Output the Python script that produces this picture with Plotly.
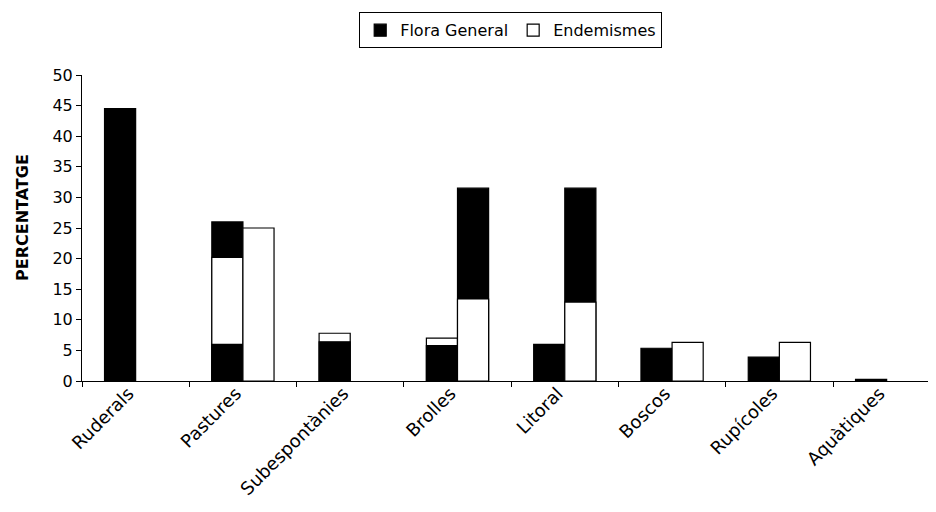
import plotly.graph_objects as go

categories = ["Ruderals", "Pastures", "Subespontànies", "Brolles", "Litoral",
              "Boscos", "Rupícoles", "Aquàtiques"]

# Left column of each category (drawn back to front)
left_back_black = [None, 26.0, None, None, None, None, None, None]
left_mid_white = [None, 20.2, 7.8, 7.0, None, None, None, None]
left_front_black = [44.5, 6.0, 6.4, 5.8, 6.0, 5.35, 3.9, 0.25]

# Right column of each category (drawn back to front)
right_back_black = [None, None, None, 31.5, 31.5, None, None, None]
right_front_white = [None, 25.0, None, 13.4, 12.9, 6.3, 6.3, None]

y_ticks = [0, 5, 10, 15, 20, 25, 30, 35, 40, 45, 50]

FONT = "DejaVu Sans, Arial, sans-serif"
W = 0.29

def bar(vals, color, offset, name, showlegend):
    return go.Bar(
        x=categories, y=vals, name=name, showlegend=showlegend,
        legendgroup=name,
        marker=dict(color=color, line=dict(color="black", width=1.2)),
        offset=offset, width=W,
    )

fig = go.Figure()
fig.add_trace(bar(left_back_black, "black", -W, "Flora General", False))
fig.add_trace(bar(left_mid_white, "white", -W, "Endemismes", False))
fig.add_trace(bar(left_front_black, "black", -W, "Flora General", True))
fig.add_trace(bar(right_back_black, "black", 0, "Flora General", False))
fig.add_trace(bar(right_front_white, "white", 0, "Endemismes", True))

fig.add_annotation(
    text="<b>PERCENTATGE</b>", textangle=-90, showarrow=False,
    xref="paper", yref="paper", x=-60 / 854, y=(381 - 218) / 306,
    xanchor="center", yanchor="middle", font=dict(size=16),
)

fig.update_layout(
    width=928, height=504,
    margin=dict(l=74, r=0, t=67, b=131, autoexpand=False),
    paper_bgcolor="white", plot_bgcolor="white",
    barmode="overlay",
    font=dict(family=FONT, color="black", size=16),
    legend=dict(
        orientation="h", x=0.502, xanchor="center", y=1.205, yanchor="top",
        bordercolor="black", borderwidth=1, bgcolor="white",
        font=dict(size=16), traceorder="normal",
        itemwidth=30,
    ),
    xaxis=dict(
        range=[-0.5, 7.46], showline=True, linecolor="black", linewidth=1,
        ticks="outside", tickson="boundaries", ticklen=5, tickcolor="black",
        tickangle=-45, tickfont=dict(size=18), showgrid=False, automargin=False,
        ticklabelshift=-7, ticklabelstandoff=-6,
    ),
    yaxis=dict(
        range=[0, 50], tickvals=y_ticks, showline=True, linecolor="black",
        linewidth=1, ticks="outside", ticklen=5, tickcolor="black",
        showgrid=False, zeroline=False, tickfont=dict(size=16), automargin=False,
    ),
)

fig.write_html("out.html")
